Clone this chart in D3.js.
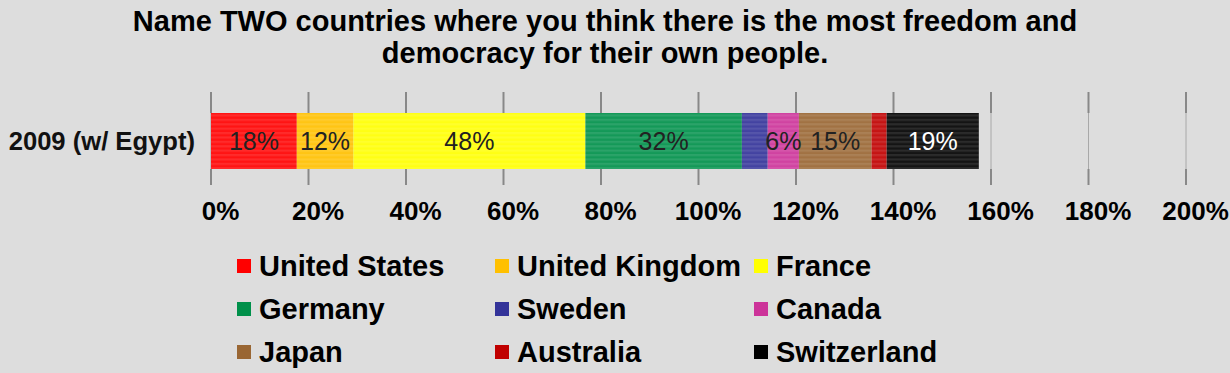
<!DOCTYPE html>
<html>
<head>
<meta charset="utf-8">
<script src="https://cdn.jsdelivr.net/npm/d3@7/dist/d3.min.js"></script>
<style>
  html, body { margin: 0; padding: 0; background: #dddddd; }
  svg { display: block; }
  text { font-family: "Liberation Sans", Arial, sans-serif; }
</style>
</head>
<body>
<svg id="chart" width="1230" height="373"></svg>
<script>
// ---- data ----
const titleLines = ["Name TWO countries where you think there is the most freedom and",
                    "democracy for their own people."];
const category = "2009 (w/ Egypt)";
const countries = ["United States", "United Kingdom", "France", "Germany", "Sweden",
                   "Canada", "Japan", "Australia", "Switzerland"];
const values = [0.176, 0.116, 0.476, 0.321, 0.053, 0.064, 0.149, 0.031, 0.189];
const colors = ["#ff0000", "#ffc000", "#ffff00", "#00904a", "#333399",
                "#cc3399", "#996633", "#c00000", "#000000"];
const labelColors = ["#222", "#222", "#222", "#222", "#222", "#222", "#222", "#222", "#ffffff"];
const tickValues = [0, 0.2, 0.4, 0.6, 0.8, 1.0, 1.2, 1.4, 1.6, 1.8, 2.0];

// ---- layout ----
const svg = d3.select("#chart");
const W = 1230, H = 373;
svg.append("rect").attr("width", W).attr("height", H).attr("fill", "#dddddd");

const x = d3.scaleLinear().domain([0, 2]).range([211, 1186]);
const y = d3.scaleBand().domain([category]).range([113, 169]).padding(0);
const gridTop = 92, gridBottom = 185;
const fmt = d3.format(".0%");

// stripe pattern
const defs = svg.append("defs");
const pat = defs.append("pattern").attr("id", "stripes")
  .attr("patternUnits", "userSpaceOnUse").attr("width", 8).attr("height", 4.4);
pat.append("rect").attr("width", 8).attr("height", 2.2).attr("fill", "rgba(255,255,255,0.17)");
pat.append("rect").attr("y", 2.2).attr("width", 8).attr("height", 2.2).attr("fill", "rgba(255,255,255,0.08)");

// title
svg.append("g").selectAll("text").data(titleLines).join("text")
  .attr("x", 605).attr("y", (d, i) => 31 + i * 32)
  .attr("text-anchor", "middle").attr("font-size", 29).attr("font-weight", "bold")
  .attr("fill", "#000").text(d => d);

// gridlines
const grid = svg.append("g");
grid.selectAll("line.g").data(tickValues).join("line").attr("class", "g")
  .attr("x1", d => x(d)).attr("x2", d => x(d))
  .attr("y1", gridTop).attr("y2", gridBottom)
  .attr("stroke", "#a8a8a8").attr("stroke-width", 1);
grid.selectAll("line.t1").data(tickValues).join("line").attr("class", "t1")
  .attr("x1", d => x(d)).attr("x2", d => x(d))
  .attr("y1", gridTop).attr("y2", y(category))
  .attr("stroke", "#888").attr("stroke-width", 2);
grid.selectAll("line.t2").data(tickValues).join("line").attr("class", "t2")
  .attr("x1", d => x(d)).attr("x2", d => x(d))
  .attr("y1", y(category) + y.bandwidth()).attr("y2", gridBottom)
  .attr("stroke", "#888").attr("stroke-width", 2);

// stacked segments
const starts = [];
values.reduce((acc, v) => { starts.push(acc); return acc + v; }, 0);
const segs = countries.map((c, i) => ({ name: c, v: values[i], x0: starts[i], x1: starts[i] + values[i], color: colors[i], lc: labelColors[i] }));

const bars = svg.append("g");
bars.selectAll("rect.seg").data(segs).join("rect").attr("class", "seg")
  .attr("x", d => x(d.x0)).attr("width", d => x(d.x1) - x(d.x0))
  .attr("y", y(category)).attr("height", y.bandwidth())
  .attr("fill", d => d.color);
bars.selectAll("rect.str").data(segs).join("rect").attr("class", "str")
  .attr("x", d => x(d.x0)).attr("width", d => x(d.x1) - x(d.x0))
  .attr("y", y(category)).attr("height", y.bandwidth())
  .attr("fill", "url(#stripes)");

bars.selectAll("text").data(segs.filter(d => d.v >= 0.06)).join("text")
  .attr("x", d => (x(d.x0) + x(d.x1)) / 2)
  .attr("y", y(category) + y.bandwidth() / 2 + 9)
  .attr("text-anchor", "middle").attr("font-size", 25)
  .attr("fill", d => d.lc).text(d => fmt(d.v));

// category label
svg.append("text").attr("x", 195).attr("y", y(category) + y.bandwidth() / 2 + 9)
  .attr("text-anchor", "end").attr("font-size", 25.6).attr("font-weight", "bold")
  .attr("fill", "#111").text(category);

// x axis tick labels
const axis = d3.axisBottom(x).tickValues(tickValues).tickFormat(fmt).tickSize(0).tickPadding(0);
const ax = svg.append("g").attr("transform", "translate(9,220)").call(axis);
ax.select(".domain").remove();
ax.selectAll("text").attr("dy", 0).attr("y", 0)
  .attr("font-size", 26).attr("font-weight", "bold").attr("fill", "#000")
  .attr("font-family", "Liberation Sans, Arial, sans-serif");

// legend
const colX = [237, 495, 754];
const rowY = [266, 309, 352];
const leg = svg.append("g").selectAll("g").data(countries).join("g")
  .attr("transform", (d, i) => `translate(${colX[i % 3]},${rowY[Math.floor(i / 3)]})`);
leg.append("rect").attr("x", 0).attr("y", -7).attr("width", 14).attr("height", 14)
  .attr("fill", (d, i) => colors[i]);
leg.append("text").attr("x", 22).attr("y", 10)
  .attr("font-size", 29).attr("font-weight", "bold").attr("fill", "#000").text(d => d);
</script>
</body>
</html>
